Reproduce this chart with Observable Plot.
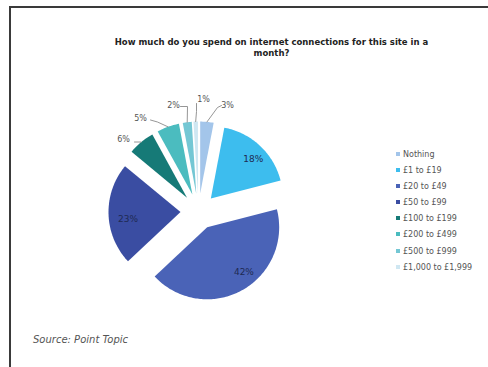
<!DOCTYPE html>
<html><head><meta charset="utf-8">
<script src="https://cdn.jsdelivr.net/npm/d3@7"></script>
<script src="https://cdn.jsdelivr.net/npm/@observablehq/plot@0.6"></script>
<style>
html,body{margin:0;padding:0;background:#fff;}
#wrap{position:relative;width:488px;height:367px;overflow:hidden;background:#fff;font-family:"DejaVu Sans",Verdana,sans-serif;}
#frame{position:absolute;left:9px;top:6px;width:520px;height:420px;border-top:2px solid #3a3a3a;border-left:2px solid #3a3a3a;}
#title{position:absolute;left:60px;width:423px;top:36.5px;text-align:center;font-weight:bold;font-size:8.5px;line-height:11px;color:#222;}
#chart{position:absolute;left:0;top:62px;}
#legend{position:absolute;left:396px;top:150px;font-size:8px;color:#555;}
#legend .row{height:16.1px;line-height:10px;white-space:nowrap;}
#legend .sw{display:inline-block;width:4px;height:4px;margin-right:3px;vertical-align:1px;}
#source{position:absolute;left:33px;top:334px;font-style:italic;font-size:10px;line-height:12px;color:#555;}
</style>
</head><body>
<div id="wrap">
  <div id="frame"></div>
  <div id="title">How much do you spend on internet connections for this site in a<br>month?</div>
  <div id="chart"></div>
  <div id="legend"></div>
  <div id="source">Source: Point Topic</div>
</div>
<script>
// ---- data ----
const categories = ["Nothing","£1 to £19","£20 to £49","£50 to £99","£100 to £199","£200 to £499","£500 to £999","£1,000 to £1,999"];
const shares = [3, 18, 42, 23, 6, 5, 2, 1];
const colors = ["#a3c5ea","#3dbdee","#4a63b7","#3a4da2","#167a77","#4bbcbf","#74c7d4","#cfe7f2"];
const labelInside = [false, true, true, true, false, false, false, false];

// ---- layout (pixels) ----
const W = 488, H = 268;
const CX = 198, CY = 149;      // pie centre inside the svg
const R = 72;                  // radius
const EXPLODE = 0.25;          // explosion, in radii
const INSIDE_R = 0.8;          // inside label radius beyond apex
// small nudges for inside labels (pixels)
const insideNudge = {1: [3, 3], 2: [9, -6], 3: [5, 5]};
// outside label nudges (pixels relative to pie centre): text centre, then leader start, elbow
const outsideLayout = {
  0: {text:[29,-106], start:[23,-106], elbow:[19,-104]},
  4: {text:[-75,-72], start:[-64,-69.5], elbow:[-58,-69.5]},
  5: {text:[-58,-93], start:[-48,-91.5], elbow:[-41,-89.5]},
  6: {text:[-25,-106], start:[-18,-105], elbow:[-11,-105]},
  7: {text:[5,-112], start:[-2,-108], elbow:[-2,-100]}
};

const total = d3.sum(shares);
const px = v => v / R;          // pixel offset -> unit
const slices = [];
const labels = [];
const leaders = [];
let acc = 0;
shares.forEach((s, i) => {
  const a0 = acc / total * 2 * Math.PI;
  acc += s;
  const a1 = acc / total * 2 * Math.PI;
  const m = (a0 + a1) / 2;
  const ex = EXPLODE * Math.sin(m), ey = EXPLODE * Math.cos(m);
  const cat = categories[i];
  slices.push({cat, x: ex, y: ey});
  const n = Math.max(4, Math.ceil((a1 - a0) / 0.02));
  for (let k = 0; k <= n; k++) {
    const a = a0 + (a1 - a0) * k / n;
    slices.push({cat, x: ex + Math.sin(a), y: ey + Math.cos(a)});
  }
  slices.push({cat, x: ex, y: ey});
  const txt = s + "%";
  if (labelInside[i]) {
    const nd = insideNudge[i] || [0, 0];
    labels.push({txt, inside: true,
      x: ex + INSIDE_R * Math.sin(m) + px(nd[0]),
      y: ey + INSIDE_R * Math.cos(m) - px(nd[1])});
  } else {
    const L = outsideLayout[i];
    labels.push({txt, inside: false, x: px(L.text[0]), y: -px(L.text[1])});
    leaders.push({cat, x: px(L.start[0]), y: -px(L.start[1])});
    leaders.push({cat, x: px(L.elbow[0]), y: -px(L.elbow[1])});
    leaders.push({cat, x: ex + Math.sin(m), y: ey + Math.cos(m)});
  }
});

const chart = Plot.plot({
  width: W, height: H, margin: 0,
  style: {fontFamily: "'DejaVu Sans', Verdana, sans-serif", background: "transparent", overflow: "visible"},
  x: {domain: [-CX / R, (W - CX) / R], axis: null},
  y: {domain: [-(H - CY) / R, CY / R], axis: null},
  color: {domain: categories, range: colors},
  marks: [
    Plot.line(slices, {x: "x", y: "y", z: "cat", fill: "cat", stroke: "none", curve: "linear"}),
    Plot.line(leaders, {x: "x", y: "y", z: "cat", stroke: "#8a8a8a", strokeWidth: 0.9}),
    Plot.text(labels.filter(d => d.inside), {x: "x", y: "y", text: "txt", fill: "#1e2a52", fontSize: 9}),
    Plot.text(labels.filter(d => !d.inside), {x: "x", y: "y", text: "txt", fill: "#555", fontSize: 8})
  ]
});
document.getElementById("chart").appendChild(chart);

const legend = document.getElementById("legend");
categories.forEach((c, i) => {
  const row = document.createElement("div");
  row.className = "row";
  const sw = document.createElement("span");
  sw.className = "sw";
  sw.style.background = colors[i];
  row.appendChild(sw);
  row.appendChild(document.createTextNode(c));
  legend.appendChild(row);
});
</script>
</body></html>
